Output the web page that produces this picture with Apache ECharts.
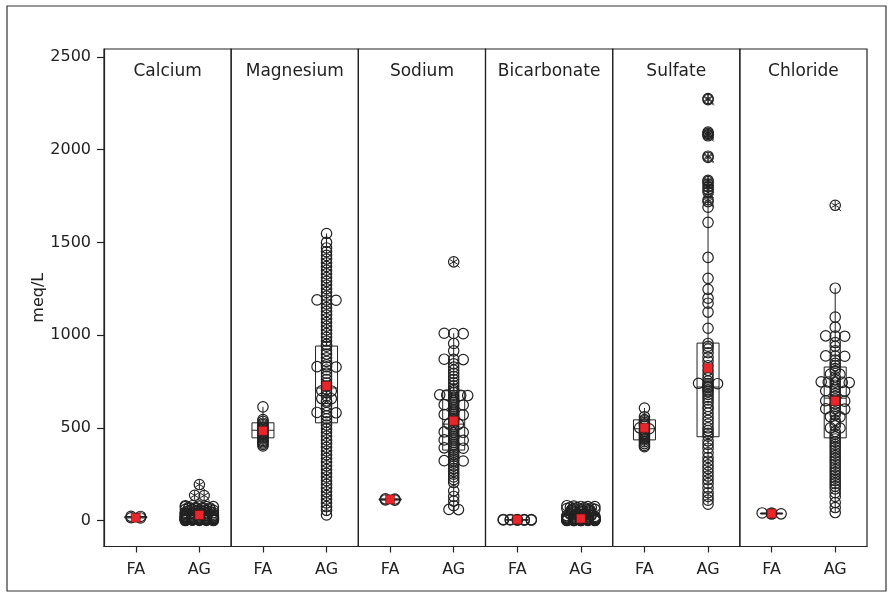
<!DOCTYPE html>
<html>
<head>
<meta charset="utf-8">
<script src="https://cdn.jsdelivr.net/npm/echarts@6/dist/echarts.min.js"></script>
<style>html,body{margin:0;padding:0;background:#fff;}#c{width:893px;height:597px;}</style>
</head>
<body>
<div id="c"></div>
<script>
// ---------------- data (meq/L) ----------------
const panels = ['Calcium', 'Magnesium', 'Sodium', 'Bicarbonate', 'Sulfate', 'Chloride'];
const groups = ['FA', 'AG'];
const yTicks = [0, 500, 1000, 1500, 2000, 2500];

// Calcium
const caFA = [14, 15, 22, 23];
const caAG = [80, 80, 78, 75, 75, 75, 72, 70, 70, 68, 66, 65, 65, 62, 60, 60, 58, 55, 55, 52, 50, 50, 48, 45, 45, 42, 40, 40, 38, 35, 35, 32, 30, 30, 28, 25, 25, 25, 22, 20, 20, 20, 18, 15, 15, 15, 12, 12, 10, 10, 10, 8, 8, 6, 5, 5, 5, 3, 2, 2, 1, 0, 0,
  44, 43, 36, 34, 27, 26, 24, 21, 19, 17, 16, 14, 13, 11, 9, 9, 7, 7, 6, 4, 4, 3, 1];
const caAGOut = [194, 136, 135];
const caBox = [[14, 14, 18, 22, 23], [0, 10, 25, 50, 80]]; // min, Q1, median, Q3, max
const caMean = [15, 30];

// Magnesium
const mgFA = [613, 545, 535, 525, 518, 510, 503, 497, 490, 484, 478, 470, 462, 455, 447, 440, 432, 425, 418, 410, 402];
const mgAG = [1548, 1500, 1470, 1450, 1430, 1410, 1390, 1370, 1350, 1330, 1310, 1290, 1270, 1250, 1230, 1210, 1190, 1189, 1188, 1168, 1148, 1128, 1108, 1088, 1068, 1048, 1028, 1008, 988, 968, 950,
  940, 918, 898, 878, 858, 840, 830, 829, 828, 812, 795, 778, 760, 742, 725, 708, 700, 699, 690, 672, 658, 657, 645, 638, 620, 604, 583, 582, 581, 565, 548, 532,
  515, 495, 475, 455, 435, 415, 395, 375, 355, 335, 315, 295, 275, 255, 235, 215, 195, 175, 155, 135, 115, 95, 75, 55, 30];
const mgAGOut = [];
const mgBox = [[402, 446, 487, 527, 613], [30, 527, 715, 941, 1548]];
const mgMean = [484, 726];

// Sodium
const naFA = [110, 111, 116, 117];
const naAG = [1010, 1009, 1008, 955, 915, 870, 869, 868, 845, 828, 811, 794, 777, 760, 743, 726, 710,
  700, 690, 678, 677, 676, 675, 674, 665, 655, 645, 635, 625, 624, 623, 612, 600, 590, 580, 572, 571, 570, 560, 550, 540, 530, 520, 519, 508, 498, 488, 478, 477, 476, 465, 455, 445, 435, 434, 433, 422, 412, 402, 392, 391, 390, 380,
  368, 356, 344, 332, 323, 322, 321, 310, 295, 280, 265, 250, 235, 220, 205, 160, 130, 105, 80, 60, 59];
const naAGOut = [1395];
const naBox = [[110, 110, 114, 117, 117], [59, 380, 520, 700, 1010]];
const naMean = [114, 538];

// Bicarbonate
const bcFA = [6, 6, 5, 5, 5, 3, 3, 2, 2, 2];
const bcAG = [80, 78, 75, 75, 72, 70, 68, 65, 65, 62, 60, 58, 55, 52, 50, 48, 45, 42, 40, 38, 35, 32, 30, 28, 25, 25, 22, 20, 20, 18, 15, 15, 12, 12, 10, 10, 10, 8, 8, 8, 6, 6, 5, 5, 5, 4, 4, 3, 3, 2, 2, 2, 1, 1, 0, 0, 0,
  76, 70, 63, 57, 46, 37, 33, 27, 24, 21, 17, 14, 13, 11, 9, 9, 7, 7, 6, 4, 3, 1, 0];
const bcAGOut = [];
const bcBox = [[2, 2, 4, 5, 6], [0, 2, 6, 15, 80]];
const bcMean = [5, 11];

// Sulfate
const suFA = [607, 560, 545, 538, 530, 522, 515, 508, 500, 495, 488, 480, 472, 465, 458, 450, 442, 435, 425, 415, 405, 398];
const suAG = [1690, 1608, 1419, 1306, 1247, 1199, 1172, 1124, 1037,
  955, 940, 925, 905, 880, 860, 835, 810, 790, 770, 752, 740, 739, 738, 730, 722, 715, 705, 695, 680, 665, 650, 635, 615, 600, 580, 560, 540, 520, 500, 485, 470, 455,
  430, 410, 390, 365, 340, 320, 300, 280, 260, 240, 220, 200, 175, 150, 130, 110, 88];
const suAGOut = [2276, 2270, 2095, 2088, 2082, 2075, 1965, 1958, 1835, 1828, 1815, 1800, 1785, 1770, 1730, 1720];
const suBox = [[398, 435, 495, 543, 607], [88, 452, 720, 957, 1690]];
const suMean = [500, 822];

// Chloride
const clFA = [35, 36, 40, 41];
const clAG = [1253, 1097, 1043, 996, 995, 994, 960, 940, 915, 888, 887, 886, 865, 848, 835,
  820, 805, 790, 789, 775, 760, 748, 747, 746, 745, 744, 730, 715, 700, 699, 698, 685, 670, 655, 646, 645, 644, 630, 615, 603, 602, 601, 585, 570, 560, 559, 540, 525, 510, 500, 499, 480, 465, 452,
  440, 425, 410, 395, 380, 365, 350, 335, 320, 305, 290, 275, 260, 245, 230, 215, 200, 185, 170, 150, 130, 97, 70, 43];
const clAGOut = [1700];
const clBox = [[35, 35, 38, 41, 41], [43, 446, 660, 828, 1253]];
const clMean = [38, 645];

const panelData = [
  { fa: caFA, ag: caAG, out: caAGOut, box: caBox, mean: caMean },
  { fa: mgFA, ag: mgAG, out: mgAGOut, box: mgBox, mean: mgMean },
  { fa: naFA, ag: naAG, out: naAGOut, box: naBox, mean: naMean },
  { fa: bcFA, ag: bcAG, out: bcAGOut, box: bcBox, mean: bcMean },
  { fa: suFA, ag: suAG, out: suAGOut, box: suBox, mean: suMean },
  { fa: clFA, ag: clAG, out: clAGOut, box: clBox, mean: clMean }
];

// ---------------- layout / style ----------------
const FONT = 'DejaVu Sans';
const INK = '#222';
const plotLeft = 104, plotRight = 867, plotTop = 49, plotBottom = 546.5;
const panelW = (plotRight - plotLeft) / panels.length;
const Y_MIN = -140, Y_MAX = 2543;
const R = 5.2;

// deterministic dodge of points that share (nearly) the same value
function dodge(data, api, tol) {
  const off = new Array(data.length).fill(0);
  [0, 1].forEach(cat => {
    const idx = [];
    const ys = {};
    data.forEach((d, i) => { if (d[0] === cat) { idx.push(i); ys[i] = api.coord([cat, d[1]])[1]; } });
    idx.sort((a, b) => ys[a] - ys[b]);
    let k = 0;
    while (k < idx.length) {
      const start = ys[idx[k]];
      let j = k;
      while (j < idx.length && ys[idx[j]] - start <= tol) j++;
      const n = j - k;
      const c = Math.min(n, 5);
      const sp = n <= 3 ? 9.5 : 7;
      for (let m = 0; m < n; m++) {
        const col = m % c;
        off[idx[k + m]] = (col - (c - 1) / 2) * sp;
      }
      k = j;
    }
  });
  return off;
}

function pointSeries(p, data, tol, isOut) {
  return {
    type: 'custom',
    xAxisIndex: p, yAxisIndex: p,
    data: data,
    encode: { x: 0, y: 1 },
    z: isOut ? 4 : 3,
    silent: true,
    renderItem: function (params, api) {
      const ctx = params.context;
      if (!ctx.off) ctx.off = dodge(data, api, tol);
      const pt = api.coord([api.value(0), api.value(1)]);
      const cx = pt[0] + ctx.off[params.dataIndex];
      const cy = pt[1];
      const children = [{
        type: 'circle',
        shape: { cx: cx, cy: cy, r: R },
        style: { fill: 'none', stroke: INK, lineWidth: 1.2 }
      }];
      if (isOut) {
        const a = R * 0.85;
        for (let t = 0; t < 3; t++) {
          const ang = Math.PI / 2 + t * Math.PI / 3;
          children.push({
            type: 'line',
            shape: { x1: cx - a * Math.cos(ang), y1: cy - a * Math.sin(ang), x2: cx + a * Math.cos(ang), y2: cy + a * Math.sin(ang) },
            style: { stroke: INK, lineWidth: 1 }
          });
        }
        children.push({
          type: 'line',
          shape: { x1: cx + R * 0.6, y1: cy + R * 0.6, x2: cx + R * 1.1, y2: cy + R * 1.1 },
          style: { stroke: INK, lineWidth: 1 }
        });
      }
      return { type: 'group', children: children };
    }
  };
}

function boxSeries(p, box) {
  const data = box.map((b, i) => [i].concat(b));
  return {
    type: 'custom',
    xAxisIndex: p, yAxisIndex: p,
    data: data,
    encode: { x: 0, y: [1, 2, 3, 4, 5] },
    z: 2,
    silent: true,
    renderItem: function (params, api) {
      const cat = api.value(0);
      const x = api.coord([cat, 0])[0];
      const yv = [1, 2, 3, 4, 5].map(d => api.coord([cat, api.value(d)])[1]);
      const hw = 11;
      const st = { stroke: INK, lineWidth: 1, fill: 'none' };
      return {
        type: 'group',
        children: [
          { type: 'rect', shape: { x: x - hw, y: yv[3], width: 2 * hw, height: yv[1] - yv[3] }, style: st },
          { type: 'line', shape: { x1: x - hw, y1: yv[2], x2: x + hw, y2: yv[2] }, style: st },
          { type: 'line', shape: { x1: x, y1: yv[3], x2: x, y2: yv[4] }, style: st },
          { type: 'line', shape: { x1: x, y1: yv[1], x2: x, y2: yv[0] }, style: st }
        ]
      };
    }
  };
}

const grids = [], xAxes = [], yAxes = [], series = [], graphics = [];

panels.forEach((name, p) => {
  const left = plotLeft + p * panelW;
  grids.push({
    left: left, top: plotTop, width: panelW, height: plotBottom - plotTop,
    show: true, borderColor: INK, borderWidth: 1.2, backgroundColor: 'transparent'
  });
  xAxes.push({
    type: 'category', gridIndex: p, data: groups, boundaryGap: true,
    axisLine: { show: true, onZero: false, lineStyle: { color: INK, width: 1.2 } },
    axisTick: { show: true, alignWithLabel: true, length: 6, lineStyle: { color: INK, width: 1.2 } },
    axisLabel: { color: INK, fontSize: 16, fontFamily: FONT, margin: 15 },
    splitLine: { show: false }
  });
  const ya = {
    type: 'value', gridIndex: p, min: Y_MIN, max: Y_MAX,
    splitLine: { show: false },
    show: p === 0
  };
  if (p === 0) {
    Object.assign(ya, {
      name: 'meq/L', nameLocation: 'middle', nameGap: 54,
      nameTextStyle: { color: INK, fontSize: 16, fontFamily: FONT },
      axisLine: { show: true, onZero: false, lineStyle: { color: INK, width: 1.2 } },
      axisTick: { show: true, length: 7, customValues: yTicks, lineStyle: { color: INK, width: 1.2 } },
      axisLabel: { color: INK, fontSize: 16, fontFamily: FONT, margin: 13, customValues: yTicks, formatter: v => String(v) }
    });
  }
  yAxes.push(ya);

  const d = panelData[p];
  series.push(boxSeries(p, d.box));
  const pts = d.fa.map(v => [0, v]).concat(d.ag.map(v => [1, v]));
  series.push(pointSeries(p, pts, 1, false));
  if (d.out.length) series.push(pointSeries(p, d.out.map(v => [1, v]), 1, true));
  series.push({
    type: 'scatter', xAxisIndex: p, yAxisIndex: p,
    data: d.mean.map((v, i) => [i, v]),
    symbol: 'rect', symbolSize: 9, z: 6, silent: true,
    itemStyle: { color: '#e8262b', borderColor: '#5a1010', borderWidth: 0.6, opacity: 1 }
  });

  graphics.push({
    type: 'text', z: 10,
    style: { text: name, x: left + panelW / 2, y: 72, textAlign: 'center', textVerticalAlign: 'middle', fill: INK, font: '17px "' + FONT + '"' }
  });
});

graphics.push({
  type: 'rect', z: -1, silent: true,
  shape: { x: 7, y: 6, width: 879, height: 585 },
  style: { fill: 'none', stroke: '#333', lineWidth: 1.2 }
});

const chart = echarts.init(document.getElementById('c'), null, { renderer: 'canvas' });
chart.setOption({
  animation: false,
  backgroundColor: '#fff',
  grid: grids,
  xAxis: xAxes,
  yAxis: yAxes,
  series: series,
  graphic: graphics
});
</script>
</body>
</html>
